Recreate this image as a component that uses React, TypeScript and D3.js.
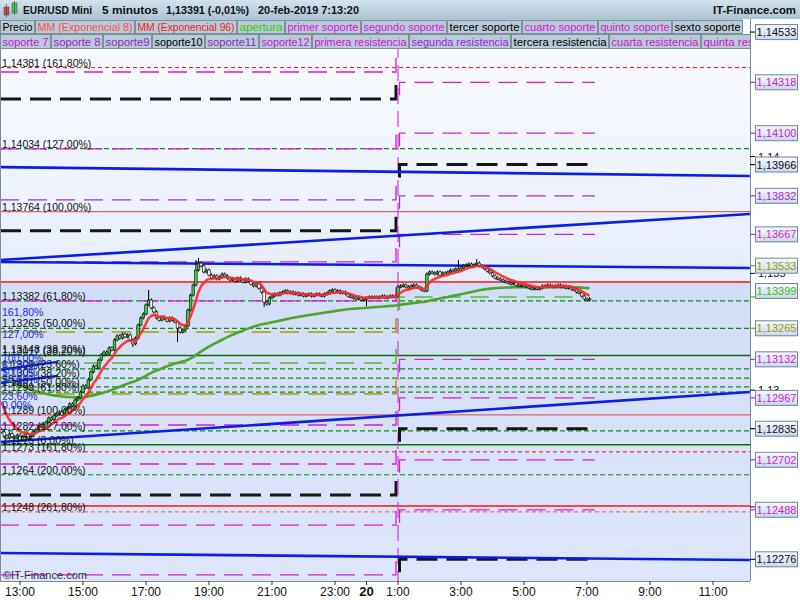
import * as d3 from 'd3';

const FONT = '"Liberation Sans", Arial, Helvetica, sans-serif';

// 5-minute bars; hours are counted from 13:00 on 19-feb, first bar opens at 12:25
const firstBarHour = -35 / 60;
const firstOpen = 1.1283;
const closes = [
  1.12821, 1.12804, 1.12795, 1.12813, 1.128,
  1.12795, 1.12808, 1.12787, 1.128, 1.12813, 1.12795, 1.12804, 1.12821,
  1.1283, 1.12843, 1.12851, 1.12838,
  1.12864, 1.12881, 1.12873, 1.1289,
  1.12898, 1.12907, 1.12894, 1.12916, 1.12924,
  1.12941, 1.12933, 1.12958, 1.12967,
  1.12992, 1.13018, 1.1301, 1.13044,
  1.13078, 1.13103, 1.13095, 1.13129,
  1.13151, 1.13163, 1.13155, 1.13181, 1.13172,
  1.13215, 1.13232, 1.13223, 1.1324, 1.13228, 1.13236,
  1.13215, 1.13198, 1.13223,
  1.13279, 1.13309, 1.13326,
  1.13365, 1.13386, 1.13352, 1.13335,
  1.13309, 1.133, 1.13313, 1.13305, 1.13296, 1.13309, 1.133, 1.13292,
  1.13266, 1.13249, 1.13258, 1.13275,
  1.13343, 1.13407, 1.1345, 1.13514, 1.13544,
  1.13532, 1.13506, 1.13514, 1.13493,
  1.1348, 1.13489, 1.13476, 1.13484, 1.13497, 1.13489,
  1.1348, 1.13472, 1.13476, 1.13467, 1.1348, 1.13472, 1.13463, 1.13476, 1.13467,
  1.13454, 1.13446, 1.13459, 1.13437, 1.1342,
  1.13377, 1.13369, 1.13395, 1.13403,
  1.13412, 1.13407, 1.13416, 1.1342, 1.13425, 1.13416, 1.1342, 1.13412, 1.13416,
  1.13407, 1.13412, 1.13403, 1.13407, 1.13412, 1.13403, 1.13407, 1.13412, 1.13407, 1.13403, 1.13412,
  1.13416, 1.13425, 1.13429, 1.1342, 1.13425, 1.13416, 1.1342, 1.13412,
  1.13403, 1.13399, 1.13395, 1.1339, 1.13395, 1.13386, 1.1339, 1.13395, 1.13399, 1.13395,
  1.13399, 1.13395, 1.13399, 1.13403, 1.13395, 1.13399, 1.13403, 1.13399, 1.13403,
  1.13442,
  1.13446, 1.1345, 1.13442, 1.13437, 1.13446, 1.1345, 1.13442, 1.13437,
  1.13429, 1.13425,
  1.13497, 1.13506,
  1.13502, 1.13497, 1.13506, 1.13493, 1.13502, 1.13497, 1.13506,
  1.13514, 1.1351, 1.13519, 1.13514, 1.13523, 1.13532,
  1.13536, 1.1354, 1.13532, 1.13536, 1.13544, 1.13532, 1.13527,
  1.13519, 1.1351, 1.13502, 1.13489, 1.1348, 1.13476,
  1.13472, 1.13467, 1.13463, 1.13459, 1.13454, 1.13459, 1.1345, 1.13446,
  1.1345, 1.13446, 1.13442, 1.13437, 1.13433, 1.13437,
  1.13433, 1.13437, 1.13446, 1.13442, 1.1345, 1.13446, 1.13442,
  1.13446, 1.1345, 1.13442, 1.13446, 1.13437, 1.13442, 1.13433,
  1.13429, 1.1342, 1.13416, 1.13403,
  1.1339, 1.13386, 1.13391,
];
// notable wicks: [bar, high, low]
const spikeBars = [50, 56, 67, 74, 75, 100, 139, 174, 181];
const spikeHighs = [0, 1.13429, 0, 1.13557, 1.13566, 0, 0, 1.13557, 1.13561];
const spikeLows = [1.13185, 0, 1.13206, 0, 0, 1.13356, 1.1336, 0, 0];

const ema8Seed = 1.12988;
const ema96Seed = 1.1306;

// fibonacci levels, full width
const fibPrices = [1.14381, 1.14034, 1.13764, 1.13463, 1.13382, 1.13265, 1.13148, 1.13091, 1.13052, 1.13014, 1.12992, 1.12894, 1.12826, 1.12766, 1.12736, 1.12638, 1.12504, 1.12479];
const fibKinds = ['redDash', 'greenDash', 'salmon', 'red', 'greenDash', 'greenDash', 'darkGreen', 'greenDash', 'greenDash', 'greenDash', 'greenDash', 'salmon', 'greenDash', 'darkGreen', 'redDash', 'greenDash', 'red', 'salmonDash'];

const fibLabels = ['1,14381 (161,80%)', '1,14034 (127,00%)', '1,13764 (100,00%)', '1,13382 (61,80%)', '1,13265 (50,00%)', '1,13148 (38,20%)', '1,13017 (38,20%)', '1,1309 (23,60%)', '1,1305 (38,20%)', '1,1301 (50,00%)', '1,1299 (61,80%)', '1,1289 (100,00%)', '1,1282 (127,00%)', '1,1275 (0,00%)', '1,1273 (161,80%)', '1,1264 (200,00%)', '1,1248 (261,80%)'];
const fibLabelPrices = [1.14381, 1.14034, 1.13764, 1.13382, 1.13265, 1.13155, 1.13148, 1.13091, 1.13052, 1.13014, 1.12992, 1.12894, 1.12826, 1.12766, 1.12736, 1.12638, 1.12479];

const blueLabels = ['161,80%', '127,00%', '100,00%', '61,80%', '50,00%', '38,20%', '23,60%', '0,00%'];
const bluePrices = [1.13316, 1.13222, 1.13121, 1.13091, 1.13061, 1.13031, 1.12958, 1.1292];

// trend lines: price at left edge / right edge of the plot
const trendHours = [-0.635, 23.17];
const trendStart = [1.13955, 1.13557, 1.13549, 1.12778, 1.12303];
const trendEnd = [1.13917, 1.13754, 1.13523, 1.12992, 1.12273];
const shortBlueHours = [-0.635, 1.2];
const shortBlueStart = [1.13087, 1.13031];
const shortBlueEnd = [1.13121, 1.13061];

// daily pivot levels
const pivot19Prices = [1.14362, 1.14247, 1.14033, 1.13815, 1.13682, 1.13549, 1.13382, 1.13249, 1.13116, 1.12984, 1.12851, 1.12684, 1.12551, 1.12422, 1.12209];
const pivot19Kinds = ['mag', 'black', 'mag', 'purple', 'black', 'mag', 'mag', 'olive', 'lgreen', 'olive', 'mag', 'mag', 'black', 'mag', 'mag'];
const pivot20Prices = [1.14318, 1.141, 1.13966, 1.13832, 1.13667, 1.13399, 1.13132, 1.12967, 1.12835, 1.12702, 1.12488, 1.12276];
const pivot20Kinds = ['mag', 'mag', 'black', 'purple', 'mag', 'lgreen', 'mag', 'mag', 'black', 'mag', 'mag', 'black'];

const axisLabelPrices = [1.14533, 1.14318, 1.141, 1.13966, 1.13832, 1.13667, 1.13533, 1.13399, 1.13265, 1.13132, 1.12967, 1.12835, 1.12702, 1.12488, 1.12276];
const axisLabelColors = ['#111', '#cc22cc', '#cc22cc', '#111', '#a22ed0', '#d81ed8', '#9a9a00', '#33c400', '#9a9a00', '#cc22cc', '#cc22cc', '#111', '#cc22cc', '#cc22cc', '#111'];

const hourTicks = [0, 2, 4, 6, 8, 10, 11, 12, 14, 16, 18, 20, 22];
const hourLabels = ['13:00', '15:00', '17:00', '19:00', '21:00', '23:00', '20', '1:00', '3:00', '5:00', '7:00', '9:00', '11:00'];

const titleParts = ['EUR/USD Mini', '5 minutos', '1,13391 (-0,01%)', '20-feb-2019 7:13:20'];
const titleX = [23, 102, 166, 258];
const titleW = [69, 56, 83, 101];

const legend1 = ['Precio', 'MM (Exponencial 8)', 'MM (Exponencial 96)', 'apertura', 'primer soporte', 'segundo soporte', 'tercer soporte', 'cuarto soporte', 'quinto soporte', 'sexto soporte'];
const legend1Colors = ['#000', '#ff4d4d', '#ee1c1c', '#33cc00', '#dd11dd', '#dd11dd', '#000', '#dd11dd', '#cc22cc', '#000'];
const legend2 = ['soporte 7', 'soporte 8', 'soporte9', 'soporte10', 'soporte11', 'soporte12', 'primera resistencia', 'segunda resistencia', 'tercera resistencia', 'cuarta resistencia', 'quinta resistencia'];
const legend2Colors = ['#cc11dd', '#a020d0', '#8a2fc0', '#000', '#8a2fc0', '#c020d0', '#d010d0', '#a020e0', '#000', '#d010d0', '#d010d0'];
const legend1Edges = [0, 35, 135, 237, 285, 361, 447, 522, 598, 672, 743];
const legend2Edges = [0, 51, 103, 152, 205, 259, 312, 409, 511, 609, 701, 795];

const lineStyles: Record<string, { stroke: string; dash?: string; width: number }> = {
  mag: { stroke: '#d21fd2', dash: '19 9', width: 1.3 },
  purple: { stroke: '#a42fd6', dash: '19 9', width: 1.3 },
  black: { stroke: '#161616', dash: '21 9', width: 3 },
  olive: { stroke: '#a8a000', dash: '19 9', width: 1.5 },
  lgreen: { stroke: '#4fc02c', dash: '18 10', width: 1.5 },
  redDash: { stroke: '#ee1111', dash: '4 3', width: 1 },
  greenDash: { stroke: '#138a13', dash: '5 3', width: 1.2 },
  salmon: { stroke: '#dd6666', width: 1.2 },
  red: { stroke: '#ff1010', width: 1.5 },
  darkGreen: { stroke: '#0a6e0a', width: 1.5 },
  salmonDash: { stroke: '#ee5555', dash: '4 3', width: 1 },
};

const fmt = (v: number, d: number) => v.toFixed(d).replace('.', ',');

export default function App() {
  const plot = { left: 0, right: 750, top: 19, bottom: 581 };
  const x = d3.scaleLinear().domain([0, 22]).range([20, 713]);
  const y = d3.scaleLinear().domain([1.14318, 1.12276]).range([82.3, 559.3]);

  const barX = (i: number) => x(firstBarHour + i / 12);
  const ema = (seed: number, n: number) => {
    const k = 2 / (n + 1);
    let e = seed;
    return closes.map((c) => (e = e + k * (c - e)));
  };
  const ema8 = ema(ema8Seed, 8);
  const ema96 = ema(ema96Seed, 96);
  const emaLine = d3
    .line<number>()
    .x((_, i) => barX(i))
    .y((v) => y(v))
    .curve(d3.curveMonotoneX);

  const dayBreak = x(12);
  const dayEnd = x(18.25);

  const candles = closes.map((c, i) => {
    const o = i === 0 ? firstOpen : closes[i - 1];
    let hi = Math.max(o, c) + 0.00007;
    let lo = Math.min(o, c) - 0.00006;
    const s = spikeBars.indexOf(i);
    if (s >= 0) {
      if (spikeHighs[s]) hi = spikeHighs[s];
      if (spikeLows[s]) lo = spikeLows[s];
    }
    return { i, o, c, hi, lo };
  });

  const yTicks = y.ticks(5);
  const splitY = y(1.13463);

  return (
    <svg width={800} height={600} style={{ position: 'absolute', left: 0, top: 0 }} fontFamily={FONT}>
      <defs>
        <linearGradient id="bgTop" x1="0" y1="0" x2="0" y2="1">
          <stop offset="0" stopColor="#fbfcff" />
          <stop offset="1" stopColor="#e6edfb" />
        </linearGradient>
        <linearGradient id="bgBottom" x1="0" y1="0" x2="0" y2="1">
          <stop offset="0" stopColor="#d2ddf7" />
          <stop offset="1" stopColor="#dde6fa" />
        </linearGradient>
        <linearGradient id="title" x1="0" y1="0" x2="0" y2="1">
          <stop offset="0" stopColor="#d3e3ee" />
          <stop offset="1" stopColor="#a9c3d3" />
        </linearGradient>
        <linearGradient id="tag" x1="0" y1="0" x2="0" y2="1">
          <stop offset="0" stopColor="#f6f8fe" />
          <stop offset="1" stopColor="#cad8ef" />
        </linearGradient>
        <clipPath id="plotClip">
          <rect x={plot.left} y={plot.top} width={plot.right - plot.left} height={plot.bottom - plot.top} />
        </clipPath>
        <clipPath id="legendClip">
          <rect x={0} y={19} width={750} height={31} />
        </clipPath>
      </defs>

      <rect x={0} y={0} width={800} height={600} fill="#ffffff" />
      <rect x={plot.left} y={plot.top} width={plot.right} height={splitY - plot.top} fill="url(#bgTop)" />
      <rect x={plot.left} y={splitY} width={plot.right} height={plot.bottom - splitY} fill="url(#bgBottom)" />

      <g clipPath="url(#plotClip)">
        {fibPrices.map((p, i) => {
          const st = lineStyles[fibKinds[i]];
          return (
            <line key={`fib${i}`} x1={plot.left} x2={plot.right} y1={y(p)} y2={y(p)} stroke={st.stroke} strokeWidth={st.width} strokeDasharray={st.dash} />
          );
        })}

        {pivot19Prices.map((p, i) => {
          const st = lineStyles[pivot19Kinds[i]];
          const yy = y(p);
          return (
            <path key={`p19${i}`} d={`M${plot.left},${yy}H${dayBreak - 2}V${yy - 14}`} fill="none" stroke={st.stroke} strokeWidth={st.width} strokeDasharray={st.dash} />
          );
        })}
        <line x1={dayBreak} x2={dayBreak} y1={plot.top} y2={plot.bottom} stroke="#d63ad6" strokeWidth={1.4} strokeDasharray="16 7" opacity={0.85} />
        {pivot20Prices.map((p, i) => {
          const st = lineStyles[pivot20Kinds[i]];
          const yy = y(p);
          const end = pivot20Kinds[i] === 'lgreen' ? x(17.8) : dayEnd;
          return (
            <path key={`p20${i}`} d={`M${dayBreak + 1.5},${yy + 13}V${yy}H${end}`} fill="none" stroke={st.stroke} strokeWidth={st.width} strokeDasharray={st.dash} />
          );
        })}

        {trendStart.map((p, i) => (
          <line key={`tr${i}`} x1={x(trendHours[0])} x2={x(trendHours[1])} y1={y(p)} y2={y(trendEnd[i])} stroke="#0a1de6" strokeWidth={2.6} />
        ))}
        {shortBlueStart.map((p, i) => (
          <line key={`sb${i}`} x1={x(shortBlueHours[0])} x2={x(shortBlueHours[1])} y1={y(p)} y2={y(shortBlueEnd[i])} stroke="#0a1de6" strokeWidth={2.4} />
        ))}

        <path d={emaLine(ema96) ?? ''} fill="none" stroke="#4ea52a" strokeWidth={2.6} />

        {candles.map((k) => {
          const cx = barX(k.i);
          const top = y(Math.max(k.o, k.c));
          const h = Math.max(1.2, Math.abs(y(k.o) - y(k.c)));
          return (
            <g key={`c${k.i}`}>
              <line x1={cx} x2={cx} y1={y(k.hi)} y2={y(k.lo)} stroke="#000" strokeWidth={1} />
              <rect x={cx - 1.3} y={top} width={2.6} height={h} fill={k.c >= k.o ? '#3ccf3c' : '#ffffff'} stroke="#000" strokeWidth={0.6} />
            </g>
          );
        })}

        <path d={emaLine(ema8) ?? ''} fill="none" stroke="#ff2a2a" strokeWidth={2.6} opacity={0.9} />

        {fibLabels.map((t, i) => (
          <text key={`fl${i}`} x={2} y={y(fibLabelPrices[i]) - 1} fontSize={10.5} fill="#111">
            {t}
          </text>
        ))}
        {blueLabels.map((t, i) => (
          <text key={`bl${i}`} x={2} y={y(bluePrices[i])} fontSize={10.5} fill="#1a2ae6">
            {t}
          </text>
        ))}
        <text x={3} y={579} fontSize={11} fill="#333">
          ©IT-Finance.com
        </text>
      </g>

      <line x1={0.5} x2={0.5} y1={plot.top} y2={plot.bottom} stroke="#7a8c9c" />
      <line x1={plot.right + 0.5} x2={plot.right + 0.5} y1={plot.top} y2={plot.bottom} stroke="#7a8c9c" />
      <line x1={0} x2={plot.right} y1={plot.bottom + 0.5} y2={plot.bottom + 0.5} stroke="#7a8c9c" />

      {/* price axis */}
      {yTicks.map((t) => (
        <g key={`yt${t}`}>
          <line x1={plot.right} x2={plot.right + 5} y1={y(t)} y2={y(t)} stroke="#111" />
          <text x={758} y={y(t) + 4} fontSize={11} fill="#111">
            {fmt(t, t.toFixed(3).endsWith('0') ? 2 : 3)}
          </text>
        </g>
      ))}
      {axisLabelPrices.map((p, i) => {
        const cy = y(p) - (p === 1.13399 ? 6 : 0);
        return (
          <g key={`al${i}`}>
            <line x1={plot.right} x2={755} y1={y(p)} y2={y(p)} stroke={axisLabelColors[i]} strokeWidth={1.2} />
            <rect x={755.5} y={cy - 7.5} width={42} height={15} fill="url(#tag)" stroke="#6f8697" />
            <text x={776.5} y={cy + 4} fontSize={11} textAnchor="middle" fill={axisLabelColors[i]}>
              {fmt(p, 5)}
            </text>
          </g>
        );
      })}

      {/* time axis */}
      {hourTicks.map((h, i) => (
        <g key={`xt${h}`}>
          <line x1={x(h)} x2={x(h)} y1={plot.bottom} y2={plot.bottom + 4} stroke="#333" />
          <text x={x(h)} y={596} fontSize={hourLabels[i] === '20' ? 13 : 12} fontWeight={hourLabels[i] === '20' ? 'bold' : 'normal'} textAnchor="middle" fill="#111">
            {hourLabels[i]}
          </text>
        </g>
      ))}

      {/* title bar */}
      <rect x={0} y={0} width={800} height={19} fill="url(#title)" />
      <rect x={4} y={7} width={5} height={8} fill="#e23b3b" stroke="#555" strokeWidth={0.6} />
      <line x1={6.5} x2={6.5} y1={4} y2={17} stroke="#555" strokeWidth={0.8} />
      <rect x={12} y={3} width={5} height={10} fill="#3bcf3b" stroke="#555" strokeWidth={0.6} />
      <line x1={14.5} x2={14.5} y1={1} y2={15} stroke="#555" strokeWidth={0.8} />
      {titleParts.map((t, i) => (
        <text key={`tt${i}`} x={titleX[i]} y={14} fontSize={11.5} fontWeight="bold" fill="#111" textLength={titleW[i]} lengthAdjust="spacingAndGlyphs">
          {t}
        </text>
      ))}
      <text x={713} y={14} fontSize={11.5} fontWeight="bold" fill="#111" textLength={83} lengthAdjust="spacingAndGlyphs">
        IT-Finance.com
      </text>

      {/* legend */}
      <g clipPath="url(#legendClip)">
        <rect x={0} y={19} width={743} height={15} fill="#b4c7d4" />
        <rect x={0} y={34} width={750} height={15} fill="#b4c7d4" />
        {legend1.map((t, i) => (
          <g key={`lg1${i}`}>
            <rect x={legend1Edges[i] + 0.5} y={20.5} width={legend1Edges[i + 1] - legend1Edges[i] - 1} height={13} fill="#b8cad7" stroke="#7d909e" />
            <text x={legend1Edges[i] + 2.5} y={31} fontSize={11} fill={legend1Colors[i]} textLength={legend1Edges[i + 1] - legend1Edges[i] - 5} lengthAdjust="spacingAndGlyphs">
              {t}
            </text>
          </g>
        ))}
        {legend2.map((t, i) => (
          <g key={`lg2${i}`}>
            <rect x={legend2Edges[i] + 0.5} y={34.5} width={legend2Edges[i + 1] - legend2Edges[i] - 1} height={14} fill="#b8cad7" stroke="#7d909e" />
            <text x={legend2Edges[i] + 2.5} y={46} fontSize={11} fill={legend2Colors[i]} textLength={legend2Edges[i + 1] - legend2Edges[i] - 5} lengthAdjust="spacingAndGlyphs">
              {t}
            </text>
          </g>
        ))}
      </g>
    </svg>
  );
}
